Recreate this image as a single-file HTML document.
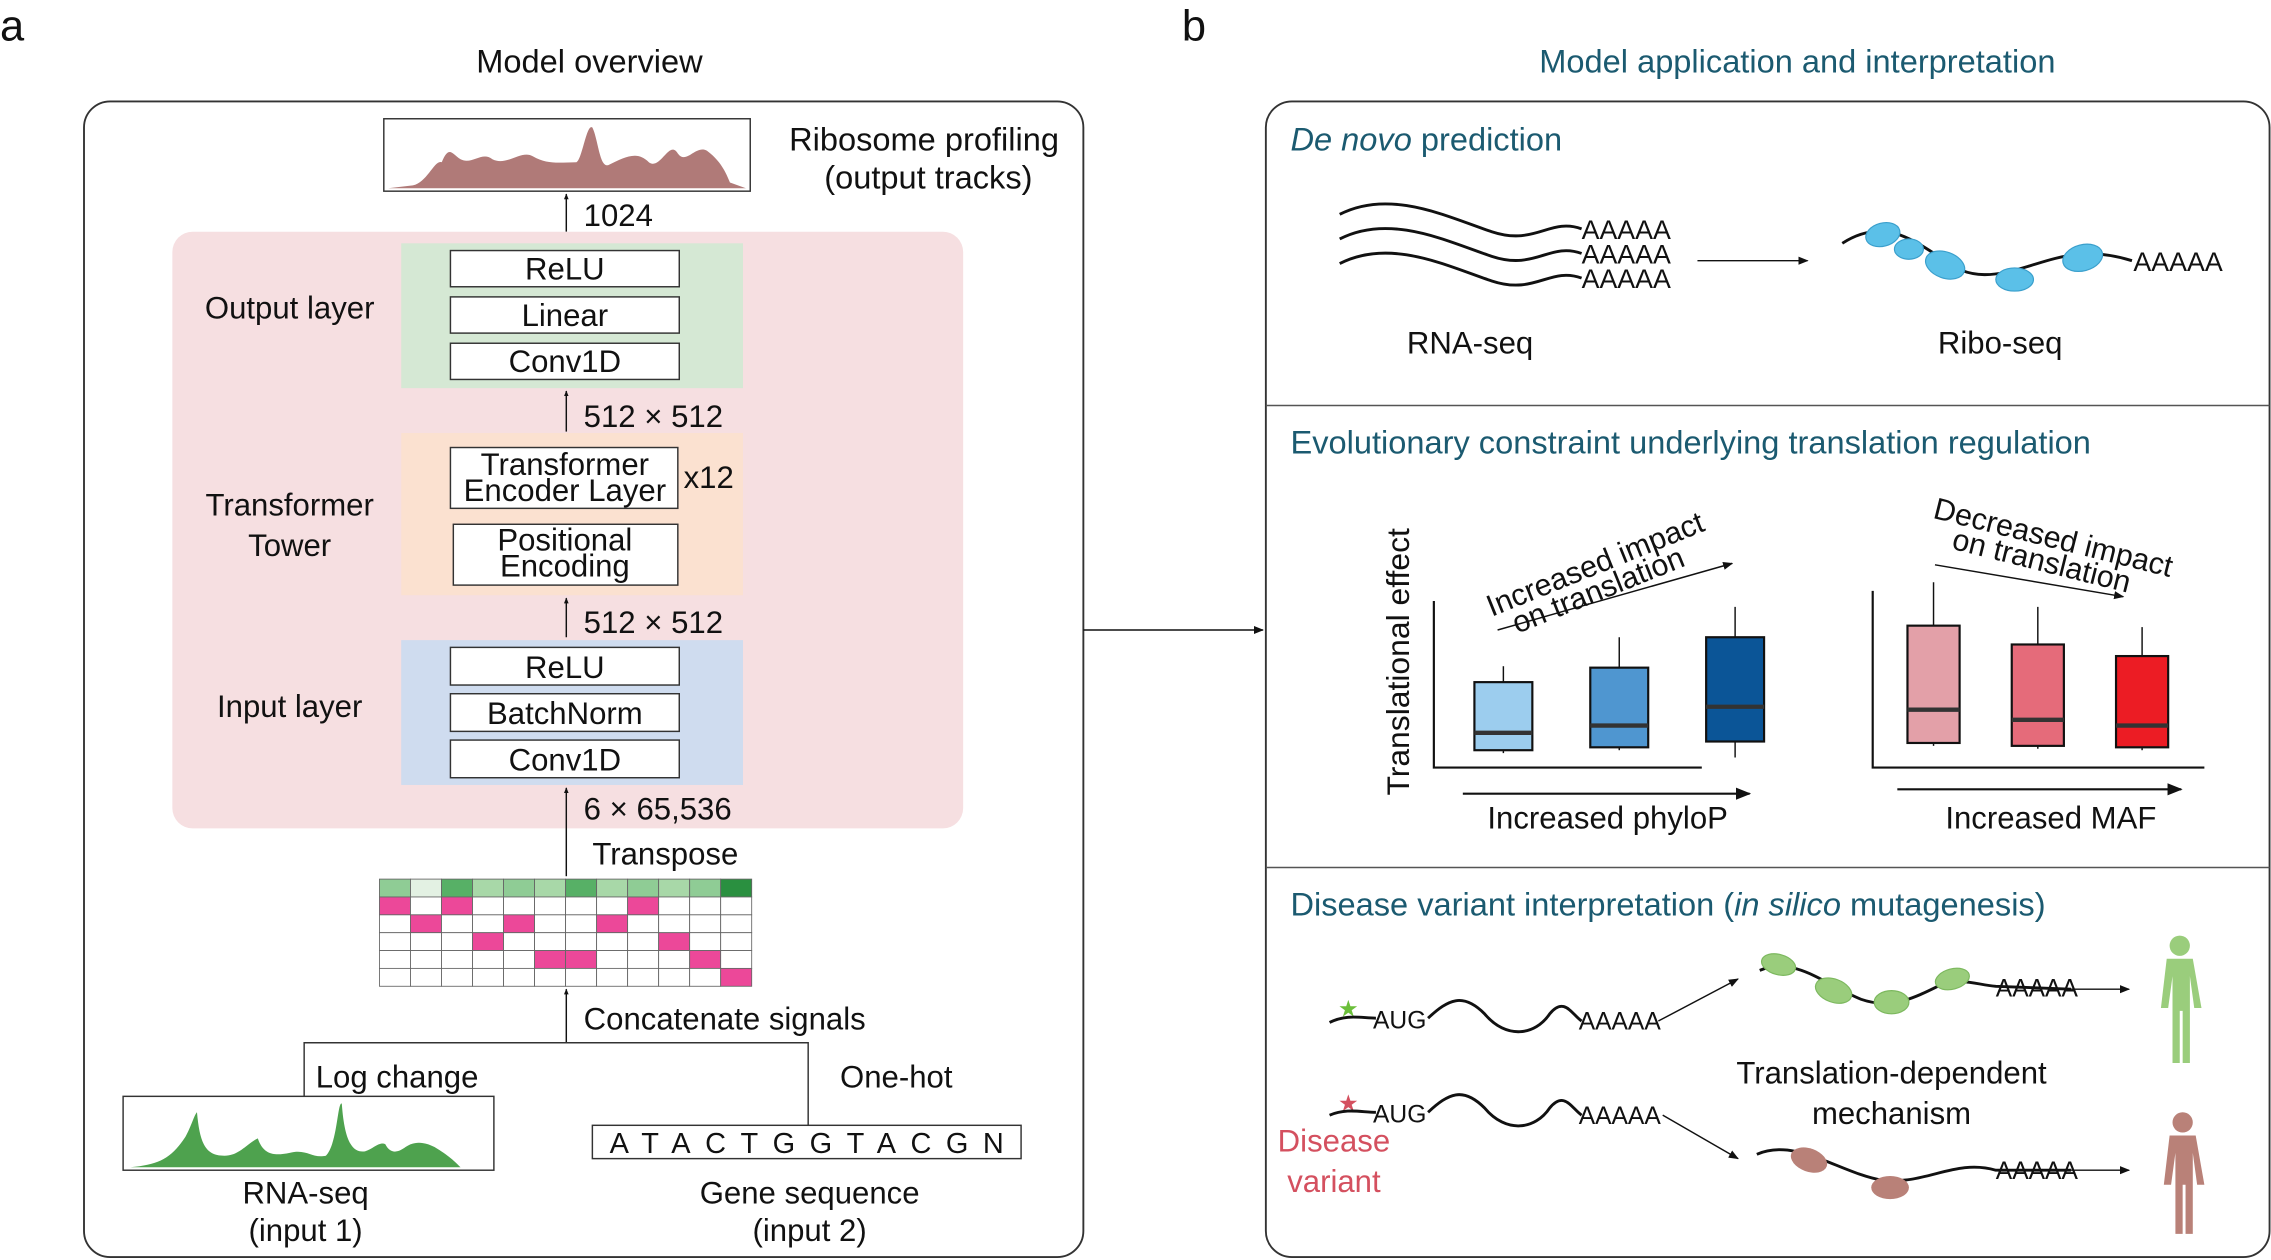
<!DOCTYPE html>
<html><head><meta charset="utf-8"><style>
html,body{margin:0;padding:0;background:#fff}
svg{display:block}
text{font-family:"Liberation Sans",sans-serif;fill:#111}
</style></head><body>
<svg id="fig" width="2271" height="1260" viewBox="0 0 1568 870" preserveAspectRatio="none" xmlns="http://www.w3.org/2000/svg">
<defs>
<marker id="ah" viewBox="0 0 10 10" refX="9" refY="5" markerWidth="7" markerHeight="7" orient="auto-start-reverse"><path d="M0,1 L10,5 L0,9 z" fill="#111"/></marker>
<marker id="ahs" viewBox="0 0 10 10" refX="9" refY="5" markerWidth="4" markerHeight="5" orient="auto"><path d="M0,1 L10,5 L0,9 z" fill="#111"/></marker>
</defs>

<g>
<text x="0" y="28" font-size="30">a</text>
<text x="407" y="50" font-size="22.5" text-anchor="middle">Model overview</text>
<rect x="58" y="70" width="690" height="798" rx="18" fill="none" stroke="#333" stroke-width="1.3"/>

<rect x="265" y="82" width="253" height="50" fill="#fff" stroke="#333"/>
<path d="M268,130 L285,128 C295,126 300,110 305,112 C310,100 312,106 318,110 C326,114 333,104 340,110 C350,115 360,103 368,108 C378,114 388,112 398,112 C402,110 405,85 409,88 C413,96 414,116 420,114 C432,108 440,104 448,112 C456,118 462,96 468,106 C474,114 480,100 488,104 C496,110 500,116 504,126 L515,130 Z" fill="#b07a78"/>
<text x="638" y="104" font-size="22.5" text-anchor="middle">Ribosome profiling</text>
<text x="641" y="130" font-size="22.5" text-anchor="middle">(output tracks)</text>
<line x1="391" y1="160" x2="391" y2="134" stroke="#111" marker-end="url(#ahs)"/>
<text x="403" y="156" font-size="21.5">1024</text>

<rect x="119" y="160" width="546" height="412" rx="14" fill="#f6dfe1"/>

<rect x="277" y="168" width="236" height="100" fill="#d5e8d4"/>
<text x="200" y="220" font-size="21.5" text-anchor="middle">Output layer</text>
<g stroke="#333" fill="#fff">
<rect x="311" y="173" width="158" height="25"/>
<rect x="311" y="205" width="158" height="25"/>
<rect x="311" y="237" width="158" height="25"/>
</g>
<text x="390" y="193" font-size="21.5" text-anchor="middle">ReLU</text>
<text x="390" y="225" font-size="21.5" text-anchor="middle">Linear</text>
<text x="390" y="257" font-size="21.5" text-anchor="middle">Conv1D</text>
<line x1="391" y1="298" x2="391" y2="270" stroke="#111" marker-end="url(#ahs)"/>
<text x="403" y="295" font-size="21.5">512 × 512</text>

<rect x="277" y="299" width="236" height="112" fill="#fbe1d0"/>
<text x="200" y="356" font-size="21.5" text-anchor="middle">Transformer</text>
<text x="200" y="384" font-size="21.5" text-anchor="middle">Tower</text>
<rect x="311" y="309" width="157" height="42" fill="#fff" stroke="#333"/>
<text x="390" y="328" font-size="21.5" text-anchor="middle">Transformer</text>
<text x="390" y="346" font-size="21.5" text-anchor="middle">Encoder Layer</text>
<text x="472" y="337" font-size="21.5">x12</text>
<rect x="313" y="362" width="155" height="42" fill="#fff" stroke="#333"/>
<text x="390" y="380" font-size="21.5" text-anchor="middle">Positional</text>
<text x="390" y="398" font-size="21.5" text-anchor="middle">Encoding</text>
<line x1="391" y1="440" x2="391" y2="413" stroke="#111" marker-end="url(#ahs)"/>
<text x="403" y="437" font-size="21.5">512 × 512</text>

<rect x="277" y="442" width="236" height="100" fill="#cfdcef"/>
<text x="200" y="495" font-size="21.5" text-anchor="middle">Input layer</text>
<g stroke="#333" fill="#fff">
<rect x="311" y="447" width="158" height="26"/>
<rect x="311" y="479" width="158" height="26"/>
<rect x="311" y="511" width="158" height="26"/>
</g>
<text x="390" y="468" font-size="21.5" text-anchor="middle">ReLU</text>
<text x="390" y="500" font-size="21.5" text-anchor="middle">BatchNorm</text>
<text x="390" y="532" font-size="21.5" text-anchor="middle">Conv1D</text>
<line x1="391" y1="605" x2="391" y2="544" stroke="#111" marker-end="url(#ahs)"/>
<text x="403" y="566" font-size="21.5">6 × 65,536</text>
<text x="409" y="597" font-size="21.5">Transpose</text>

<g id="grid"></g>

<line x1="391" y1="720" x2="391" y2="683" stroke="#111" marker-end="url(#ahs)"/>
<text x="403" y="711" font-size="21.5">Concatenate signals</text>
<path d="M210,757 L210,720 L558,720 L558,777" fill="none" stroke="#333"/>
<text x="218" y="751" font-size="21.5">Log change</text>
<text x="580" y="751" font-size="21.5">One-hot</text>

<rect x="85" y="757" width="256" height="51" fill="#fff" stroke="#333"/>
<path d="M90,806 C110,804 118,800 128,785 C132,778 134,770 136,768 C138,790 142,798 155,798 C165,798 170,790 178,786 C182,798 190,798 200,796 C212,793 215,800 225,798 C233,790 233,760 236,762 C238,790 244,796 252,795 C258,793 262,788 266,790 C270,798 276,795 280,792 C286,788 292,788 300,792 C310,798 314,802 318,806 L338,806 Z" fill="#4ea24e"/>
<rect x="409" y="777" width="296" height="23" fill="#fff" stroke="#333"/>
<text x="562" y="796" font-size="20" text-anchor="middle" letter-spacing="10">ATACTGGTACGN</text>
<text x="211" y="831" font-size="21.5" text-anchor="middle">RNA-seq</text>
<text x="211" y="857" font-size="21.5" text-anchor="middle">(input 1)</text>
<text x="559" y="831" font-size="21.5" text-anchor="middle">Gene sequence</text>
<text x="559" y="857" font-size="21.5" text-anchor="middle">(input 2)</text>
</g>

<line x1="748" y1="435" x2="872" y2="435" stroke="#111" marker-end="url(#ah)"/>

<g>
<text x="816" y="28" font-size="30">b</text>
<text x="1241" y="50" font-size="22.5" text-anchor="middle" style="fill:#1b5a70">Model application and interpretation</text>
<rect x="874" y="70" width="693" height="798" rx="18" fill="none" stroke="#333" stroke-width="1.3"/>
<line x1="874" y1="280" x2="1567" y2="280" stroke="#555"/>
<line x1="874" y1="599" x2="1567" y2="599" stroke="#555"/>

<text x="891" y="104" font-size="22.5" style="fill:#1b5a70"><tspan font-style="italic" style="fill:#1b5a70">De novo</tspan> prediction</text>
<g fill="none" stroke="#111" stroke-width="2">
<path d="M925,148 C960,130 1000,150 1030,160 C1060,170 1070,150 1092,158"/>
<path d="M925,165 C960,147 1000,167 1030,177 C1060,187 1070,167 1092,175"/>
<path d="M925,182 C960,164 1000,184 1030,194 C1060,204 1070,184 1092,192"/>
</g>
<text x="1092" y="165" font-size="18.5">AAAAA</text>
<text x="1092" y="182" font-size="18.5">AAAAA</text>
<text x="1092" y="199" font-size="18.5">AAAAA</text>
<line x1="1172" y1="180" x2="1248" y2="180" stroke="#111" marker-end="url(#ah)"/>
<path d="M1272,168 C1300,150 1320,165 1340,178 C1360,195 1380,190 1400,184 C1420,178 1440,170 1472,180" fill="none" stroke="#111" stroke-width="2"/>
<g fill="#5bc0e8" stroke="#3a9fcc" stroke-width="0.8">
<ellipse cx="1300" cy="162" rx="12" ry="8" transform="rotate(-15 1300 162)"/><ellipse cx="1343" cy="183" rx="14" ry="9" transform="rotate(20 1343 183)"/><ellipse cx="1318" cy="172" rx="10" ry="7"/>
<ellipse cx="1391" cy="193" rx="13" ry="8"/><ellipse cx="1438" cy="178" rx="14" ry="9" transform="rotate(-15 1438 178)"/>
</g>
<text x="1473" y="187" font-size="18.5">AAAAA</text>
<text x="1015" y="244" font-size="21.5" text-anchor="middle">RNA-seq</text>
<text x="1381" y="244" font-size="21.5" text-anchor="middle">Ribo-seq</text>

<text x="891" y="313" font-size="22.5" style="fill:#1b5a70">Evolutionary constraint underlying translation regulation</text>
<text transform="translate(973,457) rotate(-90)" font-size="22" text-anchor="middle">Translational effect</text>
<text transform="translate(1104,396) rotate(-22)" font-size="21" text-anchor="middle">Increased impact</text>
<text transform="translate(1106,414) rotate(-22)" font-size="21" text-anchor="middle">on translation</text>
<line x1="1034" y1="435" x2="1196" y2="389" stroke="#111" marker-end="url(#ah)"/>
<text transform="translate(1416,378) rotate(14)" font-size="21" text-anchor="middle">Decreased impact</text>
<text transform="translate(1408,394) rotate(14)" font-size="21" text-anchor="middle">on translation</text>
<line x1="1336" y1="390" x2="1466" y2="412" stroke="#111" marker-end="url(#ah)"/>
<g id="boxplots"></g>
<line x1="1010" y1="548" x2="1208" y2="548" stroke="#111" stroke-width="1.5" marker-end="url(#ah)"/>
<text x="1110" y="572" font-size="21.5" text-anchor="middle">Increased phyloP</text>
<line x1="1310" y1="545" x2="1506" y2="545" stroke="#111" stroke-width="1.5" marker-end="url(#ah)"/>
<text x="1416" y="572" font-size="21.5" text-anchor="middle">Increased MAF</text>

<text x="891" y="632" font-size="22.5" style="fill:#1b5a70">Disease variant interpretation (<tspan font-style="italic" style="fill:#1b5a70">in silico</tspan> mutagenesis)</text>
<text x="931" y="702" font-size="16" style="fill:#6bbf3a" text-anchor="middle">★</text>
<text x="948" y="710" font-size="17">AUG</text>
<path d="M918,706 C930,700 940,703 950,703 M986,703 C1000,690 1010,685 1025,700 C1040,718 1060,715 1070,700 C1080,688 1085,700 1092,705" fill="none" stroke="#111" stroke-width="2"/>
<text x="1090" y="711" font-size="17">AAAAA</text>
<line x1="1145" y1="705" x2="1200" y2="676" stroke="#111" marker-end="url(#ah)"/>
<path d="M1215,670 C1240,660 1260,680 1285,690 C1305,697 1320,690 1340,680 C1355,675 1365,680 1378,681 L1430,683" fill="none" stroke="#111" stroke-width="2"/>
<g fill="#9acd7c" stroke="#7cb85e" stroke-width="0.8">
<ellipse cx="1228" cy="666" rx="12" ry="7" transform="rotate(15 1228 666)"/><ellipse cx="1266" cy="684" rx="13" ry="8" transform="rotate(20 1266 684)"/><ellipse cx="1306" cy="692" rx="12" ry="8"/><ellipse cx="1348" cy="676" rx="12" ry="7" transform="rotate(-15 1348 676)"/>
</g>
<text x="1378" y="688" font-size="17">AAAAA</text>
<line x1="1430" y1="683" x2="1470" y2="683" stroke="#111" marker-end="url(#ah)"/>
<g fill="#9acd7c">
<circle cx="1505" cy="653" r="7"/><path d="M1496,662 h18 l6,34 h-5 l-3,-22 v60 h-5 v-36 h-2 v36 h-5 v-60 l-3,22 h-5 z"/>
</g>
<text x="931" y="767" font-size="16" style="fill:#d4505f" text-anchor="middle">★</text>
<text x="948" y="775" font-size="17">AUG</text>
<path d="M918,770 C930,765 940,768 950,768 M986,768 C1000,755 1010,750 1025,765 C1040,783 1060,780 1070,765 C1080,753 1085,765 1092,770" fill="none" stroke="#111" stroke-width="2"/>
<text x="1090" y="776" font-size="17">AAAAA</text>
<line x1="1148" y1="770" x2="1200" y2="800" stroke="#111" marker-end="url(#ah)"/>
<path d="M1213,797 C1240,785 1270,810 1300,815 C1330,818 1350,800 1378,808 L1430,808" fill="none" stroke="#111" stroke-width="2"/>
<g fill="#b98178"><ellipse cx="1249" cy="801" rx="13" ry="8" transform="rotate(20 1249 801)"/><ellipse cx="1305" cy="820" rx="13" ry="8"/></g>
<text x="1378" y="814" font-size="17">AAAAA</text>
<line x1="1430" y1="808" x2="1470" y2="808" stroke="#111" marker-end="url(#ah)"/>
<g fill="#b98178">
<circle cx="1507" cy="775" r="7"/><path d="M1498,784 h18 l6,34 h-5 l-3,-22 v56 h-5 v-34 h-2 v34 h-5 v-56 l-3,22 h-5 z"/>
</g>
<text x="1306" y="748" font-size="21.5" text-anchor="middle">Translation-dependent</text>
<text x="1306" y="776" font-size="21.5" text-anchor="middle">mechanism</text>
<text x="921" y="795" font-size="21.5" text-anchor="middle" style="fill:#d4505f">Disease</text>
<text x="921" y="823" font-size="21.5" text-anchor="middle" style="fill:#d4505f">variant</text>
</g>

<script>
const NS="http://www.w3.org/2000/svg";
const greenRow=["#8fcc95","#e3f1e3","#57b066","#a8d8a8","#8fcc95","#a8d8a8","#57b066","#a8d8a8","#8fcc95","#a8d8a8","#8fcc95","#2a9040"];
const oneHotRows=[[0,2,8],[1,4,7],[3,9],[5,6,10],[11]];
(function(){
  const g=document.getElementById('grid');
  const x0=262,y0=607,w=257/12,h=74/6;
  for(let r=0;r<6;r++)for(let c=0;c<12;c++){
    const rc=document.createElementNS(NS,'rect');
    rc.setAttribute('x',x0+c*w);rc.setAttribute('y',y0+r*h);
    rc.setAttribute('width',w);rc.setAttribute('height',h);
    let f='#fff';
    if(r===0)f=greenRow[c];else if(oneHotRows[r-1].includes(c))f='#ec4899';
    rc.setAttribute('fill',f);rc.setAttribute('stroke','#666');rc.setAttribute('stroke-width','0.6');
    
    
    g.appendChild(rc);
  }
})();

const phylopCats=["low","mid","high"];
const phylopQ1=[12,14,18];
const phylopMed=[24,29,42];
const phylopQ3=[59,69,90];
const phylopMin=[10,12,7];
const phylopMax=[70,90,111];
const mafCats=["low","mid","high"];
const mafQ1=[17,15,14];
const mafMed=[40,33,29];
const mafQ3=[98,85,77];
const mafMin=[15,13,12];
const mafMax=[128,111,97];
const phylopColors=["#9ccdee","#4f96d0","#0b5597"];
const mafColors=["#e3a0a8","#e56b7a","#ec1c24"];
(function(){
  const g=document.getElementById('boxplots');
  const yBase=530;
  const yScale=v=>yBase-v;
  function panel(x0,x1,axTop,cats,q1,med,q3,mn,mx,cols,first,step,bw,name){
    const ax=document.createElementNS(NS,'path');
    ax.setAttribute('d',`M${x0},${axTop} L${x0},${yBase} L${x1},${yBase}`);
    ax.setAttribute('fill','none');ax.setAttribute('stroke','#111');ax.setAttribute('stroke-width','1.5');
    
    
    g.appendChild(ax);
    cats.forEach((c,i)=>{
      const cx=first+i*step;
      const wl=document.createElementNS(NS,'line');
      wl.setAttribute('x1',cx);wl.setAttribute('x2',cx);
      wl.setAttribute('y1',yScale(mx[i]));wl.setAttribute('y2',yScale(mn[i]));
      wl.setAttribute('stroke','#111');
      
      
      g.appendChild(wl);
      const b=document.createElementNS(NS,'rect');
      b.setAttribute('x',cx-bw/2);b.setAttribute('width',bw);
      b.setAttribute('y',yScale(q3[i]));b.setAttribute('height',yScale(q1[i])-yScale(q3[i]));
      b.setAttribute('fill',cols[i]);b.setAttribute('stroke','#111');b.setAttribute('stroke-width','1.5');
      
      
      g.appendChild(b);
      const m=document.createElementNS(NS,'line');
      m.setAttribute('x1',cx-bw/2);m.setAttribute('x2',cx+bw/2);
      m.setAttribute('y1',yScale(med[i]));m.setAttribute('y2',yScale(med[i]));
      m.setAttribute('stroke','#333');m.setAttribute('stroke-width','3');
      
      
      g.appendChild(m);
    });
  }
  panel(990,1175,415,phylopCats,phylopQ1,phylopMed,phylopQ3,phylopMin,phylopMax,phylopColors,1038,80,40,'phylop');
  panel(1293,1522,408,mafCats,mafQ1,mafMed,mafQ3,mafMin,mafMax,mafColors,1335,72,36,'maf');
})();
</script>
</svg>
</body></html>
